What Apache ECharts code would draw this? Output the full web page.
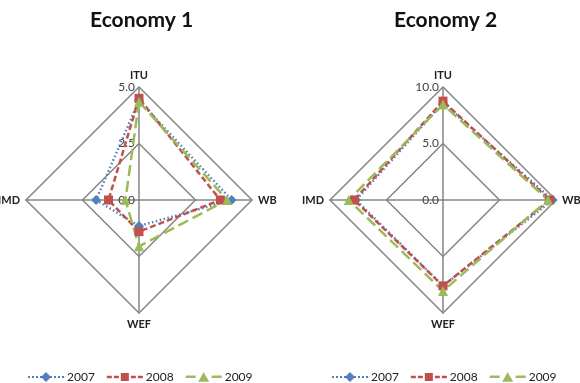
<!DOCTYPE html>
<html>
<head>
<meta charset="utf-8">
<script src="https://cdn.jsdelivr.net/npm/echarts@6/dist/echarts.min.js"></script>
<style>
html,body{margin:0;padding:0;background:#fff;}
#chart{width:580px;height:383px;}
</style>
</head>
<body>
<div id="chart"></div>
<script>
// Axes order (counterclockwise from top): ITU, IMD, WEF, WB
const indicators = ['ITU', 'IMD', 'WEF', 'WB'];
const years = ['2007', '2008', '2009'];
const titles = ['Economy 1', 'Economy 2'];
const maxE1 = 5, maxE2 = 10;

const e1_2007 = [4.4, 1.9, 1.15, 4.1];
const e1_2008 = [4.5, 1.35, 1.4, 3.6];
const e1_2009 = [4.35, 0.6, 2.05, 3.9];

const e2_2007 = [8.6, 7.7, 7.6, 9.7];
const e2_2008 = [8.75, 7.85, 7.6, 9.45];
const e2_2009 = [8.45, 8.35, 8.05, 9.3];

const colors = ['#4F81BD', '#C0504D', '#9BBB59'];
const symbols = ['diamond', 'rect', 'triangle'];
const symbolSizes = [10, 9, 10];
const dashes = [[1.5, 2.5], [6, 3], [11, 5]];

const FONT = 'Lato, "Open Sans", sans-serif';
const gray = '#868686';

// legend icons: line pattern with marker in the middle (box 36x10)
const legendIcons = [
  'path://M0,4 h2 v2 h-2Z M4,4 h2 v2 h-2Z M8,4 h2 v2 h-2Z M12,4 h2 v2 h-2Z M18,0 L23,5 L18,10 L13,5Z M22,4 h2 v2 h-2Z M26,4 h2 v2 h-2Z M30,4 h2 v2 h-2Z M34,4 h2 v2 h-2Z',
  'path://M0,3.8 h5 v2.4 h-5Z M7,3.8 h5 v2.4 h-5Z M14,1 h8 v8 h-8Z M24,3.8 h5 v2.4 h-5Z M31,3.8 h5 v2.4 h-5Z',
  'path://M0,3.8 h10 v2.4 h-10Z M18,0.5 L23.5,10 L12.5,10Z M26,3.8 h10 v2.4 h-10Z'
];

function makeIndicators(max) {
  return indicators.map(function (n, i) {
    const o = { name: n, min: 0, max: max };
    if (i === 0) {
      o.axisLabel = {
        show: true, color: '#404040', fontSize: 12, fontFamily: FONT, margin: 4,
        formatter: function (v) { return Number(v).toFixed(1); }
      };
    } else {
      o.axisLabel = { show: false };
    }
    return o;
  });
}

function makeRadar(cx, max) {
  return {
    center: [cx, 200], radius: 113, shape: 'polygon', splitNumber: 2, startAngle: 90,
    indicator: makeIndicators(max),
    nameGap: 6,
    axisName: { color: '#222', fontSize: 11, fontWeight: 'bold', fontFamily: FONT },
    splitLine: { lineStyle: { color: gray, width: 1.5 } },
    splitArea: { show: false },
    axisLine: { lineStyle: { color: gray, width: 1.5 } },
    axisTick: { show: false },
    axisLabel: { show: false }
  };
}

function makeData(arrs) {
  return arrs.map(function (vals, i) {
    return {
      name: years[i], value: vals,
      symbol: symbols[i], symbolSize: symbolSizes[i],
      itemStyle: { color: colors[i] },
      lineStyle: { color: colors[i], width: 2.5, type: dashes[i] }
    };
  });
}

function makeLegend(left) {
  return {
    left: left, top: 371, padding: 0, itemWidth: 36, itemHeight: 10, itemGap: 12,
    textStyle: { fontSize: 12, color: '#222', fontFamily: FONT, padding: [0, 0, 0, -2] },
    data: years.map(function (y, i) { return { name: y, icon: legendIcons[i] }; })
  };
}

const chart = echarts.init(document.getElementById('chart'));
chart.setOption({
  animation: false,
  title: [
    { text: titles[0], left: 85, top: 5, textStyle: { fontSize: 21, fontWeight: 'bold', color: '#111', fontFamily: FONT } },
    { text: titles[1], left: 389, top: 5, textStyle: { fontSize: 21, fontWeight: 'bold', color: '#111', fontFamily: FONT } }
  ],
  legend: [makeLegend(28), makeLegend(332)],
  radar: [makeRadar(139, maxE1), makeRadar(443, maxE2)],
  series: [
    { type: 'radar', radarIndex: 0, data: makeData([e1_2007, e1_2008, e1_2009]) },
    { type: 'radar', radarIndex: 1, data: makeData([e2_2007, e2_2008, e2_2009]) }
  ]
});
</script>
</body>
</html>
